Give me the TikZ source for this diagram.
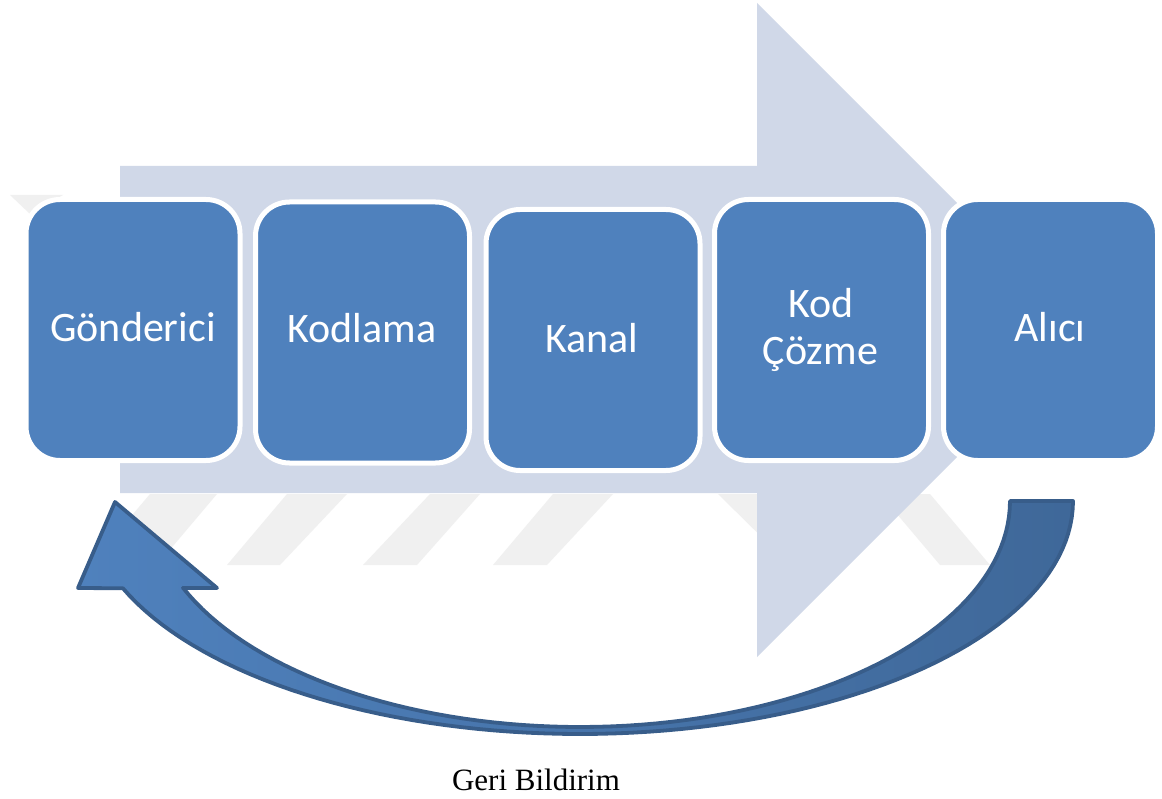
\documentclass[tikz,border=0pt]{standalone}
\usepackage{fontspec}
\newfontfamily\carlito{Carlito}
\newfontfamily\timesf{Liberation Serif}
\definecolor{boxblue}{HTML}{4F81BD}
\definecolor{bigarrow}{HTML}{D0D8E8}
\definecolor{arrline}{HTML}{385D8A}
\definecolor{arrdark}{HTML}{3F6899}
\definecolor{wmark}{HTML}{F0F0F0}
\begin{document}
\begin{tikzpicture}[x=1pt,y=-1pt,
  stage/.style={draw=white, line width=5pt, fill=boxblue, rounded corners=34pt,
    minimum width=214pt, minimum height=261pt, inner sep=0pt},
  lbl/.style={text=white, font=\carlito\fontsize{42}{50}\selectfont, inner sep=0pt, anchor=base},
  wm/.style={fill=wmark, draw=none},
  feedback/.style={draw=arrline, line width=3.8pt, line join=round, left color=boxblue, right color=arrdark}]
\useasboundingbox (0,0) rectangle (1162,799);
\fill[white] (0,0) rectangle (1162,799);
% watermark
\path[wm] (150,494) -- (217,494) -- (157,565) -- (90,565) -- cycle;
\path[wm] (287,494) -- (347,494) -- (280,565) -- (227,565) -- cycle;
\path[wm] (430,494) -- (480,494) -- (417,565) -- (363,565) -- cycle;
\path[wm] (553,494) -- (613,494) -- (547,565) -- (493,565) -- cycle;
\path[wm] (718,494) -- (775,494) -- (847,565) -- (790,565) -- cycle;
\path[wm] (880,494) -- (930,494) -- (990,565) -- (940,565) -- cycle;
\path[wm] (10,195) -- (63,195) -- (30,214) -- cycle;
% big background arrow
\fill[bigarrow] (120,166) -- (757,166) -- (757,3) -- (1084,330) -- (757,657) -- (757,493) -- (120,493) -- cycle;
% stages
\node[stage] (b1) at (133,330) {};
\node[stage] (b2) at (362.5,332.5) {};
\node[stage] (b3) at (593,340) {};
\node[stage] (b4) at (821.5,330) {};
\node[stage] (b5) at (1050.5,330) {};
\node[lbl] (t1) at (133,342) {Gönderici};
\node[lbl] (t2) at (362,343) {Kodlama};
\node[lbl] (t3) at (592,353) {Kanal};
\node[lbl] (t4a) at (821,318) {Kod};
\node[lbl] (t4b) at (820.5,365) {Çözme};
\node[lbl] (t5) at (1050,342) {Alıcı};
% feedback curved arrow
\path[feedback] (115,502) -- (217,588) -- (183,588) --
  plot[domain=157.4:0, samples=80] ({580+430*cos(\x)},{501+226*sin(\x)})
  -- (1073,501) --
  plot[domain=0:158, samples=80] ({580+493*cos(\x)},{501+233*sin(\x)})
  -- (78,588) -- cycle;
\node[font=\timesf\fontsize{31}{36}\selectfont, anchor=base, inner sep=0pt] (gb) at (536,790) {Geri Bildirim};
\end{tikzpicture}
\end{document}
